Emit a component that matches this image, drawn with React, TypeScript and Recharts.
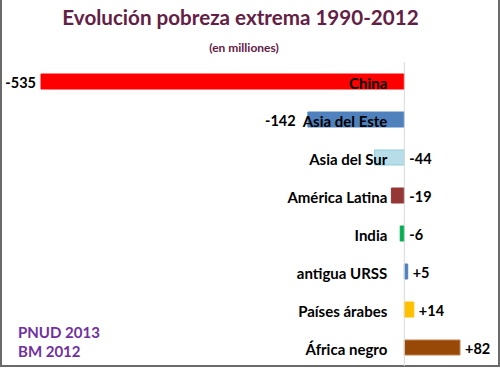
import React from "react";
import { BarChart, Bar, XAxis, YAxis, Cell, LabelList, ReferenceLine } from "recharts";

const categories = ["China", "Asia del Este", "Asia del Sur", "América Latina", "India", "antigua URSS", "Países árabes", "África negro"];
const values = [-535, -142, -44, -19, -6, 5, 14, 82];
const valueLabels = ["-535", "-142", "-44", "-19", "-6", "+5", "+14", "+82"];
const colors = ["#ff0000", "#4f81bd", "#b7dee8", "#953735", "#00b050", "#4f81bd", "#ffc000", "#984807"];
const strokes = ["#ff0000", "#4f81bd", "#93cddd", "#953735", "#00b050", "#4f81bd", "#ffc000", "#c0804d"];

const title = "Evolución pobreza extrema 1990-2012";
const subtitle = "(en milliones)";
const sources = ["PNUD 2013", "BM 2012"];

const data = categories.map((name, i) => ({ name, value: values[i], label: valueLabels[i] }));

const FONT = "Lato, 'Open Sans', sans-serif";
const CAT_SIZE = 15;
const VAL_SIZE = 14.5;

let ctx: CanvasRenderingContext2D | null = null;
function textWidth(s: string): number {
  if (typeof document === "undefined") return s.length * 7.5;
  if (!ctx) ctx = document.createElement("canvas").getContext("2d");
  if (!ctx) return s.length * 7.5;
  ctx.font = `bold ${CAT_SIZE}px Lato`;
  return ctx.measureText(s).width;
}

const BarLabels = (props: any) => {
  const { x, y, width, height, index } = props;
  const d = data[index];
  if (!d) return null;
  const left = Math.min(x, x + width);
  const right = Math.max(x, x + width);
  const zeroX = d.value < 0 ? right : left;
  const cy = y + height / 2 + 1;
  const catEnd = zeroX - 17;
  let vx: number;
  let anchor: "start" | "end";
  if (d.value < -100) {
    const catStart = catEnd - textWidth(d.name);
    vx = Math.min(left - 5, catStart - 7);
    anchor = "end";
  } else if (d.value < 0) {
    vx = zeroX + 5;
    anchor = "start";
  } else {
    vx = right + 5;
    anchor = "start";
  }
  return (
    <g>
      <text x={catEnd} y={cy} textAnchor="end" dominantBaseline="central" fontFamily={FONT} fontWeight="bold" fontSize={CAT_SIZE} fill="#000">
        {d.name}
      </text>
      <text x={vx} y={cy} textAnchor={anchor} dominantBaseline="central" fontFamily={FONT} fontWeight="bold" fontSize={VAL_SIZE} fill="#000">
        {d.label}
      </text>
    </g>
  );
};

export default function App() {
  return (
    <div style={{ position: "fixed", top: 0, left: 0, width: 500, height: 371, background: "#fff", overflow: "hidden" }}>
      <div style={{ position: "absolute", left: 0, top: 0, width: 496, height: 365, borderLeft: "2px solid #6a6a6a", borderRight: "2px solid #6a6a6a", borderBottom: "2px solid #6a6a6a" }} />
      <div style={{ position: "absolute", left: 0, width: 481, top: 4, textAlign: "center", fontFamily: FONT, fontWeight: "bold", fontSize: 20.6, color: "#632045", lineHeight: "26px" }}>
        {title}
      </div>
      <div style={{ position: "absolute", left: 0, width: 488, top: 40, textAlign: "center", fontFamily: FONT, fontWeight: "bold", fontSize: 12, color: "#632045", lineHeight: "16px" }}>
        {subtitle}
      </div>
      <div style={{ position: "absolute", left: 18, top: 323, fontFamily: FONT, fontWeight: "bold", fontSize: 15, color: "#7030a0", lineHeight: "19px" }}>
        {sources.map((s) => (
          <div key={s}>{s}</div>
        ))}
      </div>
      <div style={{ position: "absolute", left: 0, top: 0 }}>
        <BarChart width={500} height={371} data={data} layout="vertical" margin={{ top: 62, right: 40, bottom: 5, left: 41 }}>
          <XAxis type="number" dataKey="value" domain={[-535, 82]} hide />
          <YAxis type="category" dataKey="name" hide />
          <ReferenceLine x={0} stroke="#d9d9d9" strokeWidth={1} />
          <Bar dataKey="value" barSize={15} isAnimationActive={false}>
            {data.map((d, i) => (
              <Cell key={d.name} fill={colors[i]} stroke={strokes[i]} strokeWidth={1} />
            ))}
            <LabelList dataKey="value" content={BarLabels} />
          </Bar>
        </BarChart>
      </div>
    </div>
  );
}
